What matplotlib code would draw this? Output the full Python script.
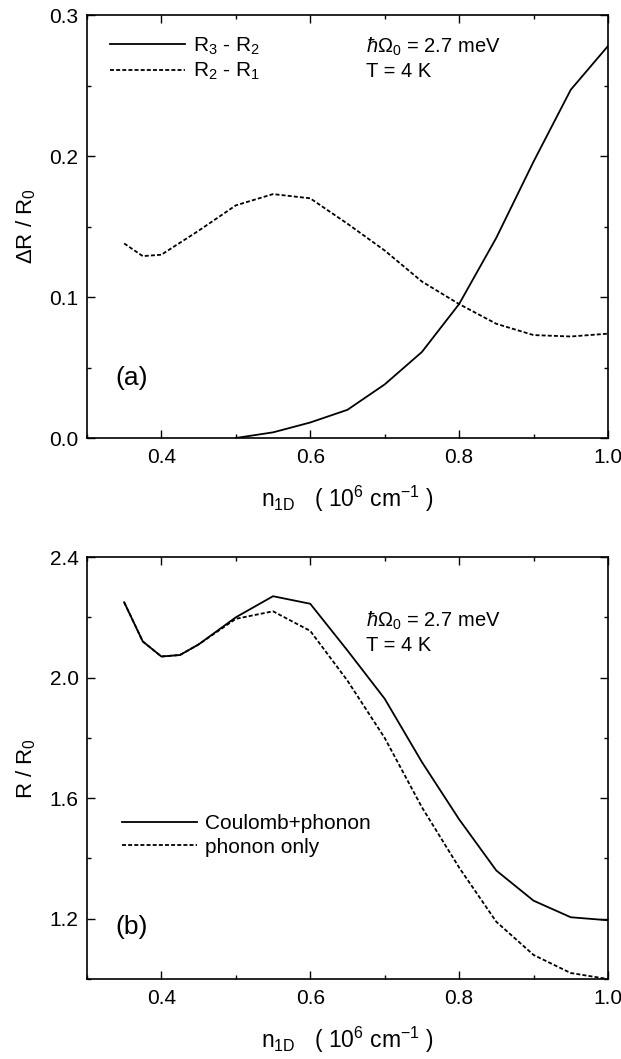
import matplotlib
matplotlib.use("Agg")
import matplotlib.pyplot as plt
from matplotlib.ticker import MultipleLocator

plt.rcParams['font.family'] = ['Liberation Sans', 'DejaVu Sans']
plt.rcParams['mathtext.fontset'] = 'custom'
plt.rcParams['mathtext.rm'] = 'Liberation Sans'
plt.rcParams['mathtext.it'] = 'Liberation Sans:italic'
plt.rcParams['mathtext.default'] = 'regular'

# panel (a): difference of resistance plateaus
n_a_solid = [0.50, 0.55, 0.60, 0.65, 0.70, 0.75, 0.80, 0.85, 0.90, 0.95, 1.00]
dR_32 = [0.0, 0.004, 0.011, 0.020, 0.038, 0.061, 0.095, 0.142, 0.196, 0.247, 0.278]
n_a_dash = [0.35, 0.375, 0.40, 0.45, 0.50, 0.55, 0.60, 0.65, 0.70, 0.75, 0.80, 0.85, 0.90, 0.95, 1.00]
dR_21 = [0.138, 0.129, 0.130, 0.147, 0.165, 0.173, 0.170, 0.152, 0.133, 0.111, 0.095, 0.081, 0.073, 0.072, 0.074]

# panel (b): total resistance
n_b = [0.35, 0.375, 0.40, 0.425, 0.45, 0.50, 0.55, 0.60, 0.65, 0.70, 0.75, 0.80, 0.85, 0.90, 0.95, 1.00]
R_coul_ph = [2.25, 2.12, 2.07, 2.075, 2.11, 2.20, 2.27, 2.245, 2.09, 1.93, 1.72, 1.53, 1.36, 1.26, 1.205, 1.195]
R_ph = [2.25, 2.12, 2.07, 2.075, 2.11, 2.195, 2.22, 2.155, 1.99, 1.80, 1.57, 1.37, 1.19, 1.08, 1.02, 1.00]

params_txt = '$\\mathit{ħ}$Ω$_0$ = 2.7 meV\nT = 4 K'
xlab = 'n$_{1D}$   ( 10$^6$ cm$^{-1}$ )'

fig = plt.figure(figsize=(6.21, 10.59), dpi=100)
ax1 = fig.add_axes([0.14, 0.5864, 0.839, 0.3994])
ax2 = fig.add_axes([0.14, 0.0755, 0.839, 0.3985])

dash = (0, (2.2, 1.2))
lw = 1.3

ax1.plot(n_a_solid, dR_32, color='black', lw=lw, label='R$_3$ - R$_2$')
ax1.plot(n_a_dash, dR_21, color='black', lw=lw, linestyle=dash, label='R$_2$ - R$_1$')
ax1.set_xlim(0.3, 1.0)
ax1.set_ylim(0.0, 0.3)
ax1.yaxis.set_major_locator(MultipleLocator(0.1))
ax1.yaxis.set_minor_locator(MultipleLocator(0.05))
ax1.set_ylabel('ΔR / R$_0$', fontsize=16, labelpad=8)
ax1.text(0.535, 0.898, params_txt, transform=ax1.transAxes,
         fontsize=14.5, va='center', linespacing=1.25)
ax1.text(0.055, 0.142, '(a)', transform=ax1.transAxes, fontsize=19, va='center')
ax1.legend(loc='upper left', bbox_to_anchor=(0.044, 0.952), frameon=False, fontsize=15,
           handlelength=3.6, handletextpad=0.4, labelspacing=0.2, borderaxespad=0,
           borderpad=0)

ax2.plot(n_b, R_coul_ph, color='black', lw=lw, label='Coulomb+phonon')
ax2.plot(n_b, R_ph, color='black', lw=lw, linestyle=dash, label='phonon only')
ax2.set_xlim(0.3, 1.0)
ax2.set_ylim(1.0, 2.4)
ax2.yaxis.set_major_locator(MultipleLocator(0.4))
ax2.yaxis.set_minor_locator(MultipleLocator(0.2))
ax2.set_ylabel('R / R$_0$', fontsize=16, labelpad=8)
ax2.text(0.535, 0.822, params_txt, transform=ax2.transAxes,
         fontsize=14.5, va='center', linespacing=1.25)
ax2.text(0.055, 0.123, '(b)', transform=ax2.transAxes, fontsize=19, va='center')
ax2.legend(loc='upper left', bbox_to_anchor=(0.067, 0.39), frameon=False, fontsize=15,
           handlelength=3.6, handletextpad=0.4, labelspacing=0.2, borderaxespad=0,
           borderpad=0)

for ax in (ax1, ax2):
    ax.xaxis.set_major_locator(MultipleLocator(0.2))
    ax.xaxis.set_minor_locator(MultipleLocator(0.1))
    ax.tick_params(which='both', direction='in', top=True, right=True, labelsize=15)
    ax.tick_params(which='major', length=6, width=1)
    ax.tick_params(which='minor', length=3, width=1)
    ax.tick_params(axis='x', which='both', pad=7)
    ax.tick_params(axis='y', which='both', pad=6)
    ax.set_xlabel(xlab, fontsize=16.5, labelpad=12)
    for s in ax.spines.values():
        s.set_linewidth(1.2)

fig.savefig('out.png', dpi=100)
